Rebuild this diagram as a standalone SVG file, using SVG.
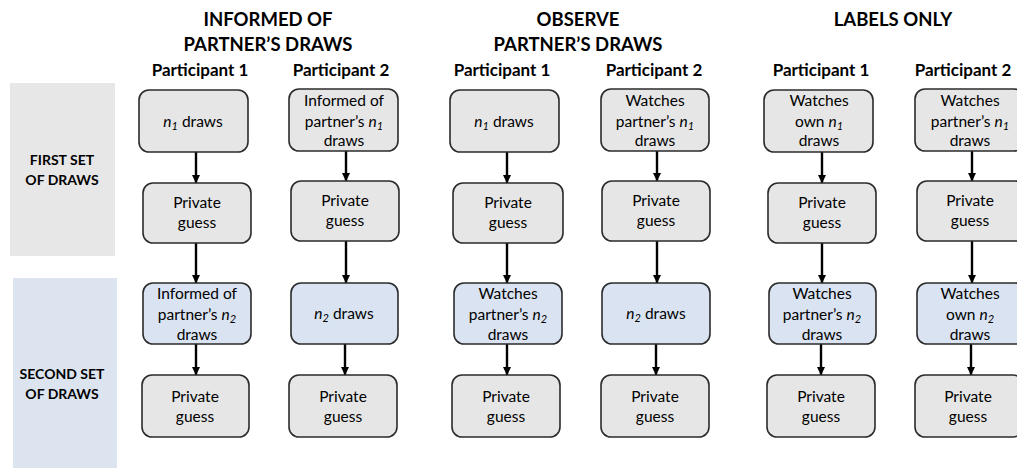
<svg xmlns="http://www.w3.org/2000/svg" width="1017" height="468" viewBox="0 0 1017 468">
<defs>
<style>
text{font-family:Lato,"Open Sans","Liberation Sans",sans-serif;fill:#000;text-anchor:middle}
.h{font-size:18.5px;font-weight:bold}
.p{font-size:17px;font-weight:bold}
.s{font-size:14px;font-weight:bold}
.t{font-size:15.5px}
.g{fill:#e6e6e6;stroke:#2b2b2b;stroke-width:1.6}
.b{fill:#dae3f1;stroke:#2b2b2b;stroke-width:1.6}
.i{font-style:italic}
.sub{font-style:italic;font-size:11px}
.c line{stroke:#000;stroke-width:2.4;marker-end:url(#ah)}
</style>
<marker id="ah" markerUnits="userSpaceOnUse" markerWidth="9" markerHeight="9" refX="8" refY="4.5" orient="auto" viewBox="0 0 9 9"><path d="M0,0.5 L8.5,4.5 L0,8.5 z" fill="#000"/></marker>
</defs>
<rect width="1017" height="468" fill="#fff"/>
<g id="bands">
<rect x="10" y="83" width="105" height="173" fill="#e7e7e7"/>
<rect x="13" y="278" width="104" height="190" fill="#dce4f0"/>
<text class="s" x="62" y="165">FIRST SET</text>
<text class="s" x="62" y="185">OF DRAWS</text>
<text class="s" x="62" y="379">SECOND SET</text>
<text class="s" x="62" y="399">OF DRAWS</text>
</g>
<g id="headings">
<text class="h" x="268" y="26">INFORMED OF</text>
<text class="h" x="268" y="51">PARTNER’S DRAWS</text>
<text class="h" x="578" y="26">OBSERVE</text>
<text class="h" x="578" y="51">PARTNER’S DRAWS</text>
<text class="h" x="893" y="26">LABELS ONLY</text>
<text class="p" x="200" y="76">Participant 1</text>
<text class="p" x="341" y="76">Participant 2</text>
<text class="p" x="502" y="76">Participant 1</text>
<text class="p" x="654" y="76">Participant 2</text>
<text class="p" x="821" y="76">Participant 1</text>
<text class="p" x="963" y="76">Participant 2</text>
</g>
<g class="c" id="connectors">
<line x1="196" y1="152" x2="196" y2="183"/>
<line x1="196" y1="243" x2="196" y2="283"/>
<line x1="196" y1="344" x2="196" y2="375"/>
<line x1="346" y1="151" x2="346" y2="181"/>
<line x1="346" y1="241" x2="346" y2="283"/>
<line x1="345" y1="344" x2="345" y2="375"/>
<line x1="507" y1="152" x2="507" y2="183"/>
<line x1="507" y1="243" x2="507" y2="283"/>
<line x1="507" y1="344" x2="507" y2="375"/>
<line x1="657" y1="151" x2="657" y2="181"/>
<line x1="657" y1="241" x2="657" y2="283"/>
<line x1="656" y1="344" x2="656" y2="375"/>
<line x1="822" y1="152" x2="822" y2="183"/>
<line x1="822" y1="243" x2="822" y2="283"/>
<line x1="821" y1="344" x2="821" y2="375"/>
<line x1="972" y1="151" x2="972" y2="181"/>
<line x1="972" y1="241" x2="972" y2="283"/>
<line x1="971" y1="344" x2="971" y2="375"/>
</g>
<g id="c1r1"><rect class="g" x="139" y="90" width="109" height="62" rx="10"/><text class="t" x="193" y="127"><tspan class="i">n</tspan><tspan class="sub" dy="3">1</tspan><tspan dy="-3"> draws</tspan></text></g>
<g id="c1r2"><rect class="g" x="143" y="183" width="108" height="60" rx="10"/><text class="t" x="197" y="208">Private</text><text class="t" x="197" y="228">guess</text></g>
<g id="c1r3"><rect class="b" x="143" y="283" width="108" height="61" rx="10"/><text class="t" x="197" y="299">Informed of</text><text class="t" x="197" y="320">partner’s <tspan class="i">n</tspan><tspan class="sub" dy="3">2</tspan></text><text class="t" x="197" y="340">draws</text></g>
<g id="c1r4"><rect class="g" x="142" y="375" width="107" height="62" rx="10"/><text class="t" x="195" y="402">Private</text><text class="t" x="195" y="422">guess</text></g>

<g id="c2r1"><rect class="g" x="289" y="89" width="109" height="62" rx="10"/><text class="t" x="344" y="106">Informed of</text><text class="t" x="344" y="127">partner’s <tspan class="i">n</tspan><tspan class="sub" dy="3">1</tspan></text><text class="t" x="344" y="146">draws</text></g>
<g id="c2r2"><rect class="g" x="291" y="181" width="108" height="60" rx="10"/><text class="t" x="345" y="206">Private</text><text class="t" x="345" y="226">guess</text></g>
<g id="c2r3"><rect class="b" x="291" y="283" width="107" height="61" rx="10"/><text class="t" x="344" y="319"><tspan class="i">n</tspan><tspan class="sub" dy="3">2</tspan><tspan dy="-3"> draws</tspan></text></g>
<g id="c2r4"><rect class="g" x="289" y="375" width="108" height="62" rx="10"/><text class="t" x="343" y="402">Private</text><text class="t" x="343" y="422">guess</text></g>

<g id="c3r1"><rect class="g" x="450" y="90" width="109" height="62" rx="10"/><text class="t" x="504" y="127"><tspan class="i">n</tspan><tspan class="sub" dy="3">1</tspan><tspan dy="-3"> draws</tspan></text></g>
<g id="c3r2"><rect class="g" x="453" y="183" width="110" height="60" rx="10"/><text class="t" x="508" y="208">Private</text><text class="t" x="508" y="228">guess</text></g>
<g id="c3r3"><rect class="b" x="454" y="283" width="108" height="61" rx="10"/><text class="t" x="508" y="299">Watches</text><text class="t" x="508" y="320">partner’s <tspan class="i">n</tspan><tspan class="sub" dy="3">2</tspan></text><text class="t" x="508" y="340">draws</text></g>
<g id="c3r4"><rect class="g" x="452" y="375" width="108" height="62" rx="10"/><text class="t" x="506" y="402">Private</text><text class="t" x="506" y="422">guess</text></g>

<g id="c4r1"><rect class="g" x="601" y="89" width="108" height="62" rx="10"/><text class="t" x="655" y="106">Watches</text><text class="t" x="655" y="127">partner’s <tspan class="i">n</tspan><tspan class="sub" dy="3">1</tspan></text><text class="t" x="655" y="146">draws</text></g>
<g id="c4r2"><rect class="g" x="602" y="181" width="108" height="60" rx="10"/><text class="t" x="656" y="206">Private</text><text class="t" x="656" y="226">guess</text></g>
<g id="c4r3"><rect class="b" x="602" y="283" width="108" height="61" rx="10"/><text class="t" x="656" y="319"><tspan class="i">n</tspan><tspan class="sub" dy="3">2</tspan><tspan dy="-3"> draws</tspan></text></g>
<g id="c4r4"><rect class="g" x="601" y="375" width="108" height="62" rx="10"/><text class="t" x="655" y="402">Private</text><text class="t" x="655" y="422">guess</text></g>

<g id="c5r1"><rect class="g" x="764" y="90" width="109" height="62" rx="10"/><text class="t" x="819" y="106">Watches</text><text class="t" x="819" y="127">own <tspan class="i">n</tspan><tspan class="sub" dy="3">1</tspan></text><text class="t" x="819" y="146">draws</text></g>
<g id="c5r2"><rect class="g" x="768" y="183" width="108" height="60" rx="10"/><text class="t" x="822" y="208">Private</text><text class="t" x="822" y="228">guess</text></g>
<g id="c5r3"><rect class="b" x="769" y="283" width="107" height="61" rx="10"/><text class="t" x="822" y="299">Watches</text><text class="t" x="822" y="320">partner’s <tspan class="i">n</tspan><tspan class="sub" dy="3">2</tspan></text><text class="t" x="822" y="340">draws</text></g>
<g id="c5r4"><rect class="g" x="767" y="375" width="108" height="62" rx="10"/><text class="t" x="821" y="402">Private</text><text class="t" x="821" y="422">guess</text></g>

<g id="c6r1"><rect class="g" x="915" y="89" width="109" height="62" rx="10"/><text class="t" x="970" y="106">Watches</text><text class="t" x="970" y="127">partner’s <tspan class="i">n</tspan><tspan class="sub" dy="3">1</tspan></text><text class="t" x="970" y="146">draws</text></g>
<g id="c6r2"><rect class="g" x="917" y="181" width="108" height="60" rx="10"/><text class="t" x="970" y="206">Private</text><text class="t" x="970" y="226">guess</text></g>
<g id="c6r3"><rect class="b" x="917" y="283" width="108" height="61" rx="10"/><text class="t" x="970" y="299">Watches</text><text class="t" x="970" y="320">own <tspan class="i">n</tspan><tspan class="sub" dy="3">2</tspan></text><text class="t" x="970" y="340">draws</text></g>
<g id="c6r4"><rect class="g" x="915" y="375" width="108" height="62" rx="10"/><text class="t" x="968" y="402">Private</text><text class="t" x="968" y="422">guess</text></g>
</svg>
